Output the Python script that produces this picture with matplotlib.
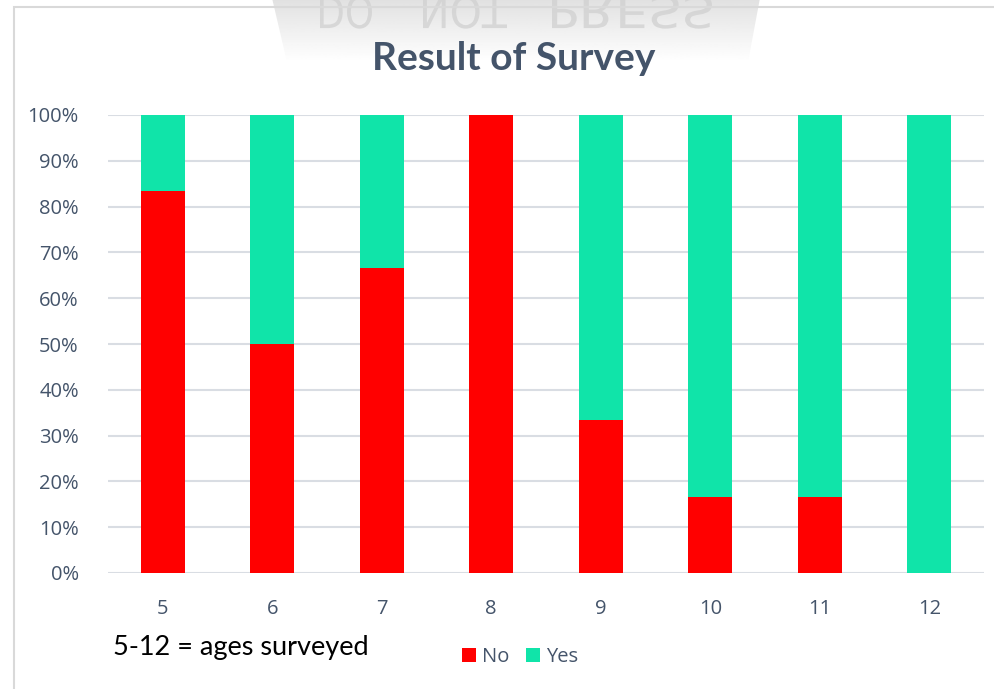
import matplotlib
matplotlib.use('Agg')
import matplotlib.pyplot as plt
import numpy as np
from matplotlib.patches import Rectangle, Polygon, PathPatch
from matplotlib.textpath import TextPath
from matplotlib.font_manager import FontProperties
from matplotlib.transforms import Affine2D

# survey data (share of answers per age)
ages = ['5', '6', '7', '8', '9', '10', '11', '12']
no_share = [0.833, 0.50, 0.667, 1.0, 0.333, 0.167, 0.167, 0.0]
yes_share = [0.167, 0.50, 0.333, 0.0, 0.667, 0.833, 0.833, 1.0]
yticks = [0, 0.1, 0.2, 0.3, 0.4, 0.5, 0.6, 0.7, 0.8, 0.9, 1.0]

red = '#FF0000'
teal = '#10E4A9'
txt = '#44546A'
grid = '#D9DDE3'

W, H = 994, 689
fig = plt.figure(figsize=(W / 100, H / 100), dpi=100)

# watermark behind the chart (gray trapezoid + flipped text)
bg = fig.add_axes([0, 0, 1, 1])
bg.set_xlim(0, W)
bg.set_ylim(H, 0)
bg.axis('off')
trap = Polygon([[272, -2], [760, -2], [748, 62], [287, 62]], closed=True,
               facecolor='none', edgecolor='none')
bg.add_patch(trap)
grad = np.linspace(0.88, 1.0, 100).reshape(-1, 1)
im = bg.imshow(grad, cmap='gray', vmin=0, vmax=1, extent=[260, 770, 62, -2],
               aspect='auto', zorder=0)
im.set_clip_path(trap)
fp = FontProperties(family='DejaVu Sans', weight='normal')
for word, x0 in [('DO', 320), ('NOT', 423), ('PRESS', 552)]:
    tp = TextPath((0, 0), word, size=44, prop=fp)
    ext = tp.get_extents()
    sx = {'DO': 52, 'NOT': 84, 'PRESS': 160}[word] / ext.width
    tr = Affine2D().translate(-ext.x0, 0).scale(sx, 1.0).translate(x0, -4)
    # y axis of bg is inverted, so text path comes out flipped vertically
    bg.add_patch(PathPatch(tr.transform_path(tp), facecolor='#d0d0d0',
                           edgecolor='none', alpha=0.75, zorder=1))

# chart area border
fig.patches.append(Rectangle((14 / W, -0.1), 1.2, (H - 7) / H + 0.1,
                             transform=fig.transFigure, facecolor='none',
                             edgecolor='#D9D9D9', linewidth=1.5, zorder=5))

ax = fig.add_axes([108 / W, 1 - 573 / H, (984 - 108) / W, (573 - 115) / H])
ax.patch.set_alpha(0)
x = np.arange(len(ages))
ax.bar(x, no_share, width=0.4, color=red, label='No', zorder=3)
ax.bar(x, yes_share, width=0.4, bottom=no_share, color=teal, label='Yes', zorder=3)

ax.set_xlim(-0.5, len(ages) - 0.5)
ax.set_ylim(0, 1)
ax.set_yticks(yticks)
ax.set_yticklabels([f'{int(round(v * 100))}%' for v in yticks])
ax.set_xticks(x)
ax.set_xticklabels(ages)
ax.grid(axis='y', color=grid, linewidth=1.5, zorder=0)
for s in ax.spines.values():
    s.set_visible(False)
ax.axhline(0, color=grid, linewidth=1.8, zorder=2)
ax.tick_params(length=0, colors=txt, labelsize=14.5)
ax.tick_params(axis='y', pad=21)
ax.tick_params(axis='x', pad=19)
for lab in ax.get_xticklabels() + ax.get_yticklabels():
    lab.set_family('Open Sans')
    lab.set_color(txt)

fig.text(514 / W, 1 - 58 / H, 'Result of Survey', ha='center', va='center',
         fontsize=28, fontweight='bold', color=txt, family='Lato')
fig.text(113 / W, 1 - 648 / H, '5-12 = ages surveyed', ha='left', va='center',
         fontsize=19.5, color='black', family='Lato')

leg = fig.legend(loc='center', bbox_to_anchor=(520 / W, 1 - 657 / H), ncol=2,
                 frameon=False, handlelength=0.7, handleheight=0.7,
                 handletextpad=0.3, columnspacing=0.8,
                 prop={'family': 'Open Sans', 'size': 14.5})
for t in leg.get_texts():
    t.set_color(txt)

fig.savefig('out.png', dpi=100)
